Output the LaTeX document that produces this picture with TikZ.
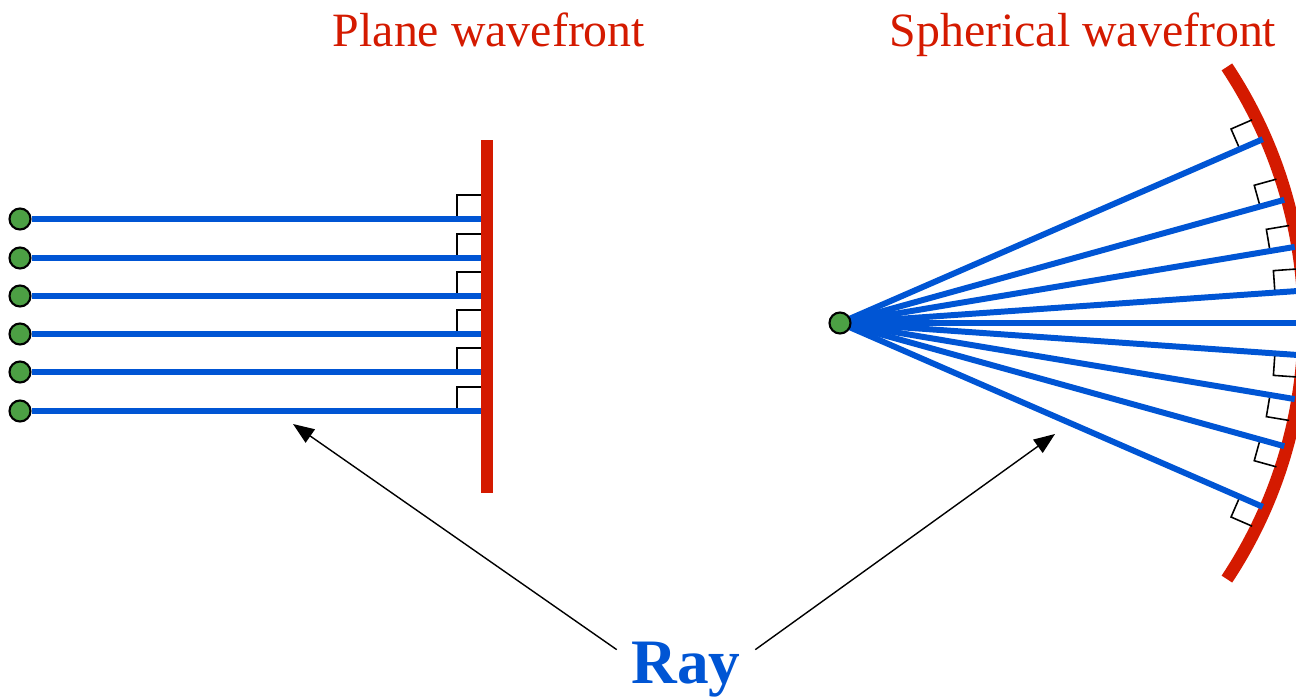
\documentclass[tikz,border=0pt]{standalone}
\usepackage{fontspec}
\setmainfont{Liberation Serif}
\usepackage{xcolor}
\usepackage{tikz}
\usetikzlibrary{arrows.meta, positioning, calc}

\definecolor{frontred}{RGB}{212,26,0}
\definecolor{rayblue}{RGB}{0,85,212}
\definecolor{srcgreen}{RGB}{76,160,68}

\tikzset{
  source/.style={circle, draw=black, line width=0.6pt, fill=srcgreen, minimum size=0.21cm, inner sep=0pt},
  ray/.style={rayblue, line width=1.7pt},
  front/.style={frontred, line width=3.6pt},
  rightmark/.style={black, line width=0.45pt},
  pointer/.style={black, line width=0.4pt, -{Triangle[length=6pt,width=4.6pt]}},
  caption/.style={frontred, font=\fontsize{13.6}{16}\selectfont, anchor=base},
}

\begin{document}
\begin{tikzpicture}[x=0.01cm, y=-0.01cm]
\useasboundingbox (0,0) rectangle (1296,697);

% Titles
\node[caption] (planetitle) at (489,47) {Plane wavefront};
\node[caption] (spheretitle) at (1083,47) {Spherical wavefront};

% Plane wavefront
\coordinate (bartop) at (487,140);
\coordinate (barbot) at (487,493);
\foreach \i/\y in {1/219, 2/258, 3/296, 4/334, 5/372, 6/411} {
  \node[source] (p\i) at (20,\y) {};
  \coordinate (h\i) at (481,\y);
  \draw[rightmark] (457,\y) -- (457,\y-24) -- (481,\y-24);
  \draw[ray] (p\i) -- (h\i);
}
\draw[front] (bartop) -- (barbot);

% Spherical wavefront
\coordinate (o) at (840,323);
\draw[front] ($(o)+(-33.5:464)$) arc[start angle=-33.5, end angle=33.5, radius=464];
\foreach \a in {23.5, 15.5, 9.5, 4} {
  \begin{scope}[shift={(o)}, rotate=\a]
    \draw[rightmark] (436,0) -- (436,-22) -- (459,-22);
  \end{scope}
  \begin{scope}[shift={(o)}, rotate=-\a]
    \draw[rightmark] (436,0) -- (436,22) -- (459,22);
  \end{scope}
}
\foreach \a in {-23.5, -15.5, -9.5, -4, 0, 4, 9.5, 15.5, 23.5} {
  \draw[ray] (o) -- ++(\a:461);
}
\node[source] (s) at (o) {};

% Label
\node[rayblue, font=\fontsize{18}{21}\selectfont\bfseries, anchor=base,
      inner xsep=4pt, inner ysep=0pt] (raylbl) at (686,683) {Ray};
\coordinate (tipL) at (293,424);
\coordinate (tipR) at (1055,434);
\draw[pointer] ([yshift=-2.5pt]raylbl.north west) -- (tipL);
\draw[pointer] ([yshift=-2.5pt]raylbl.north east) -- (tipR);

\end{tikzpicture}
\end{document}
